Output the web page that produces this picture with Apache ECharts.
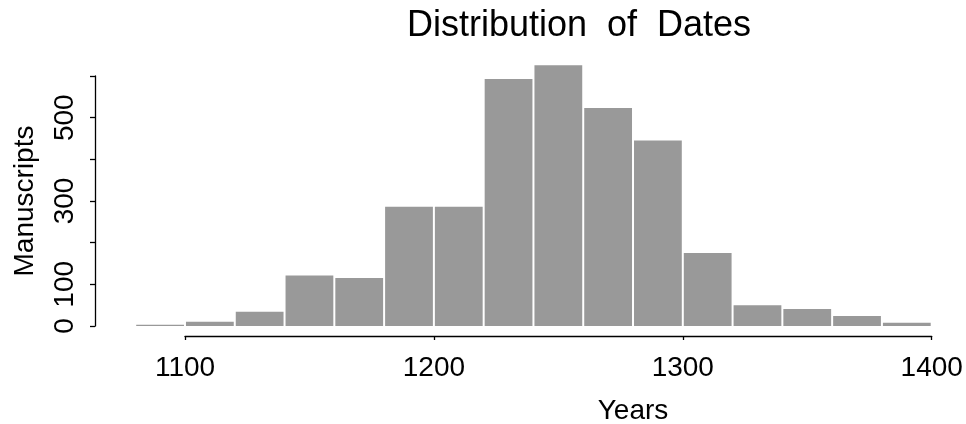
<!DOCTYPE html>
<html>
<head>
<meta charset="utf-8">
<script src="https://cdn.jsdelivr.net/npm/echarts@6/dist/echarts.min.js"></script>
<style>
html,body{margin:0;padding:0;background:#fff;}
#chart{width:966px;height:424px;}
</style>
</head>
<body>
<div id="chart"></div>
<script>
var binStart = [1080, 1100, 1120, 1140, 1160, 1180, 1200, 1220, 1240, 1260, 1280, 1300, 1320, 1340, 1360, 1380];
var binEnd   = [1100, 1120, 1140, 1160, 1180, 1200, 1220, 1240, 1260, 1280, 1300, 1320, 1340, 1360, 1380, 1400];
var counts   = [3, 10, 34, 121, 115, 286, 286, 593, 626, 523, 445, 175, 50, 41, 24, 8];
var xTickLabels = [1100, 1200, 1300, 1400];
var yTickShown = [0, 100, 300, 500];
var titleText = 'Distribution  of  Dates';
var xTitle = 'Years';
var yTitle = 'Manuscripts';

var FONT = '"Liberation Sans", Arial, Helvetica, sans-serif';
var data = binStart.map(function (s, i) { return [s, binEnd[i], counts[i]]; });

// plot area: 1100 at x=185, 1400 at x=931.7  -> 1080 at x=135.2
var chart = echarts.init(document.getElementById('chart'), null, {renderer: 'canvas'});
chart.setOption({
  animation: false,
  backgroundColor: '#ffffff',
  title: [
    {text: titleText, left: 579, top: 8, textAlign: 'center', padding: 0,
     textStyle: {fontFamily: FONT, fontSize: 36, fontWeight: 'normal', color: '#000'}},
    {text: xTitle, left: 633, top: 397, textAlign: 'center', padding: 0,
     textStyle: {fontFamily: FONT, fontSize: 28, fontWeight: 'normal', color: '#000'}}
  ],
  grid: [
    {left: 135.2, right: 34.3, top: 76, bottom: 98, containLabel: false},
    {left: 185, right: 34.3, top: 76, bottom: 98, containLabel: false}
  ],
  xAxis: [
    {type: 'value', gridIndex: 0, min: 1080, max: 1400, show: false},
    {
      type: 'value', gridIndex: 1, min: 1100, max: 1400, interval: 100, offset: 10,
      axisLine: {show: true, onZero: false, lineStyle: {color: '#000', width: 1.3}},
      axisTick: {show: true, length: 4, lineStyle: {color: '#000', width: 1.3}},
      splitLine: {show: false},
      axisLabel: {fontFamily: FONT, fontSize: 28, color: '#000', margin: 18,
        formatter: function (v) { return xTickLabels.indexOf(v) >= 0 ? String(v) : ''; }}
    }
  ],
  yAxis: [
    {type: 'value', gridIndex: 0, min: 0, max: 600, show: false},
    {
      type: 'value', gridIndex: 1, min: 0, max: 600, interval: 100, offset: 90,
      name: yTitle, nameLocation: 'middle', nameRotate: 90, nameGap: 56,
      nameTextStyle: {fontFamily: FONT, fontSize: 28, color: '#000'},
      axisLine: {show: true, onZero: false, lineStyle: {color: '#000', width: 1.3}},
      axisTick: {show: true, length: 5, lineStyle: {color: '#000', width: 1.3}},
      splitLine: {show: false},
      axisLabel: {fontFamily: FONT, fontSize: 28, color: '#000', margin: 16, rotate: 90,
        formatter: function (v) { return yTickShown.indexOf(v) >= 0 ? String(v) : ''; }}
    }
  ],
  series: [{
    type: 'custom',
    xAxisIndex: 0,
    yAxisIndex: 0,
    clip: false,
    encode: {x: [0, 1], y: 2},
    data: data,
    renderItem: function (params, api) {
      var p0 = api.coord([api.value(0), 0]);
      var p1 = api.coord([api.value(1), api.value(2)]);
      return {
        type: 'rect',
        shape: {x: p0[0] + 1, y: p1[1], width: p1[0] - p0[0] - 2, height: p0[1] - p1[1]},
        style: {fill: '#999999'}
      };
    }
  }]
});
</script>
</body>
</html>
